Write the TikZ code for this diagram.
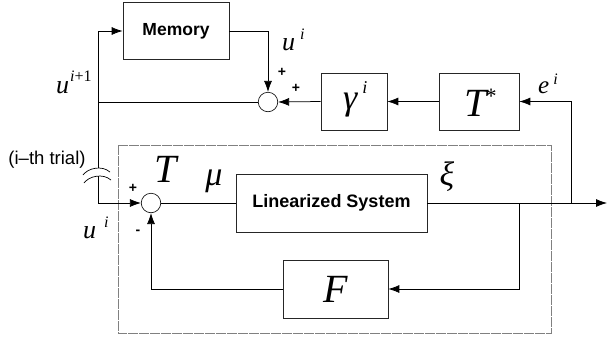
\documentclass[tikz,border=0pt]{standalone}
\usepackage{fontspec}
\setmainfont{Liberation Serif}
\newfontfamily\lsans{Liberation Sans}
\usetikzlibrary{arrows.meta}
\begin{document}
\begin{tikzpicture}[x=1pt,y=-1pt,
  box/.style={draw=black!85,line width=0.7pt,inner sep=0pt,anchor=center},
  sumc/.style={draw,circle,minimum size=19.5pt,inner sep=0pt,line width=0.6pt},
  wire/.style={line width=0.75pt},
  arr/.style={wire,-{Latex[length=11pt,width=8pt]}},
  sgn/.style={font=\lsans\bfseries\fontsize{14}{14}\selectfont,inner sep=0pt},
  mlab/.style={inner sep=0pt,anchor=base west},
  frame/.style={draw=black!50,line width=0.5pt,dash pattern=on 10pt off 1pt}]
\useasboundingbox (0,0) rectangle (608,338);
% blocks
\node[box,minimum width=106pt,minimum height=57pt,font=\lsans\bfseries\fontsize{17.5}{17.5}\selectfont] (mem) at (176,31) {Memory};
\node[sumc] (s1) at (268,102) {};
\node[box,minimum width=66pt,minimum height=57pt] (gam) at (354,101.5) {};
\node[box,minimum width=80pt,minimum height=57pt] (tst) at (479,101.5) {};
\node[box,minimum width=191pt,minimum height=58pt,font=\lsans\bfseries\fontsize{18}{18}\selectfont] (lin) at (331.5,203) {Linearized System};
\node[box,minimum width=105pt,minimum height=58pt] (F) at (335.5,289) {};
\node[sumc] (s2) at (151,203) {};
% outer frame
\draw[frame] (118,145) rectangle (551,333);
% coordinates
\coordinate (bk1) at (98,168);
\coordinate (bk2) at (98,176);
\coordinate (j1) at (98,102);
\coordinate (br1) at (519,203);
\coordinate (br2) at (571,203);
\coordinate (out) at (607,203);
% connectors
\draw[arr] (bk1) |- (mem.west);
\draw[wire] (s1.west) -- (j1);
\draw[arr] (mem.east) -| (s1.north);
\draw[arr] (gam.west) -- (s1.east);
\draw[arr] (tst.west) -- (gam.east);
\draw[arr] (br2) |- (tst.east);
\draw[arr] (bk2) |- (s2.west);
\draw[wire] (s2.east) -- (lin.west);
\draw[arr] (lin.east) -- (out);
\draw[arr] (br1) |- (F.east);
\draw[arr] (F.west) -| (s2.south);
% break symbol
\draw[line width=0.7pt] (83,175) .. controls (88,168) and (102,165) .. (110,172);
\draw[line width=0.7pt] (84,183) .. controls (89,176) and (103,173) .. (111,180);
% labels
\node[inner sep=0pt,font=\itshape\fontsize{40}{40}\selectfont] (lT) at (480,103) {T\kern-2pt\raisebox{13pt}{\fontsize{22}{22}\selectfont *}};
\node[mlab,font=\itshape\fontsize{36}{36}\selectfont] (lg) at (343,109) {γ\hspace{5pt}\raisebox{16pt}{\fontsize{18}{18}\selectfont i}};
\node[inner sep=0pt,font=\itshape\fontsize{40}{40}\selectfont] (lF) at (336,289) {F};
\node[inner sep=0pt,font=\itshape\fontsize{40}{40}\selectfont] (lTT) at (166,169) {T};
\node[inner sep=0pt,font=\itshape\fontsize{34}{34}\selectfont] (lmu) at (214,181) {μ};
\node[inner sep=0pt,font=\itshape\fontsize{34}{34}\selectfont] (lxi) at (447,177) {ξ};
\node[mlab,font=\itshape\fontsize{26}{26}\selectfont] (lu1) at (282,50) {u\hspace{5pt}\raisebox{11pt}{\fontsize{16}{16}\selectfont i}};
\node[mlab,font=\itshape\fontsize{26}{26}\selectfont] (lu2) at (56,93) {u\kern1pt\raisebox{12pt}{\fontsize{16}{16}\selectfont i\upshape +1}};
\node[mlab,font=\itshape\fontsize{26}{26}\selectfont] (lu3) at (83,238) {u\hspace{8pt}\raisebox{11pt}{\fontsize{16}{16}\selectfont i}};
\node[mlab,font=\itshape\fontsize{25}{25}\selectfont] (le) at (538,93) {e\hspace{4pt}\raisebox{9pt}{\fontsize{16}{16}\selectfont i}};
\node[inner sep=0pt,font=\lsans\fontsize{18.5}{18.5}\selectfont] (trial) at (47,160) {(i–th trial)};
\node[sgn] (p1) at (282,72) {+};
\node[sgn] (p2) at (296,88) {+};
\node[sgn] (p3) at (133,188) {+};
\node[sgn] (m1) at (138,232) {-};
\end{tikzpicture}
\end{document}
